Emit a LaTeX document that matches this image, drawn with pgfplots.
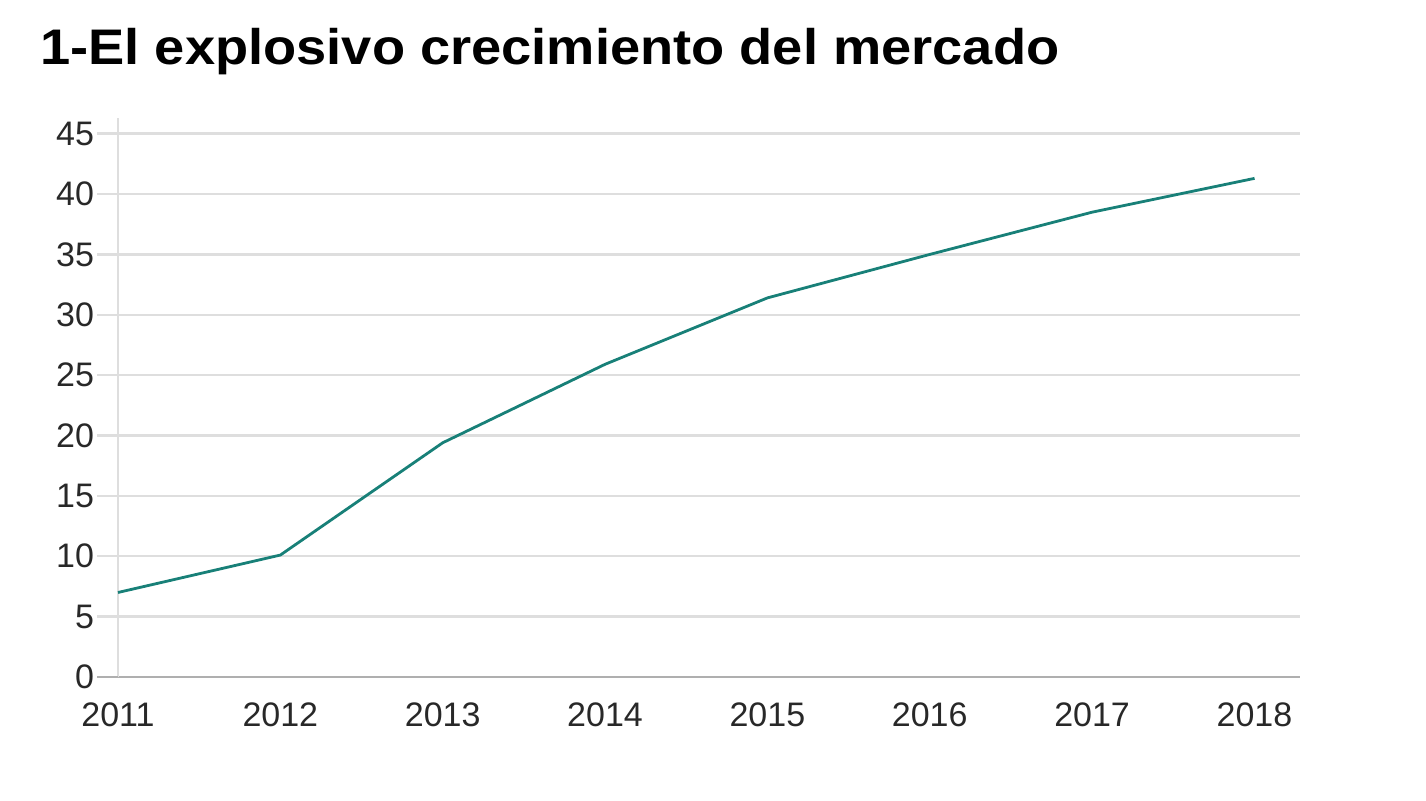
\documentclass[border=0pt]{standalone}
\usepackage{pgfplots}
\pgfplotsset{compat=1.18}
\usepackage{fontspec}
\setmainfont{Liberation Sans}
\definecolor{linecol}{RGB}{24,128,120}
\definecolor{gridcol}{RGB}{222,222,222}
\definecolor{basecol}{RGB}{175,175,175}
\definecolor{labcol}{RGB}{40,40,40}
\begin{document}
\begin{tikzpicture}
\useasboundingbox (0,0) rectangle (713pt,-400.5pt);
\node[anchor=base west,font=\bfseries\fontsize{25}{29}\selectfont,inner sep=0pt] at (20pt,-32.5pt) {\scalebox{1.085}[1]{1-El explosivo crecimiento del mercado}};
\begin{axis}[
    at={(59pt,-338.5pt)}, anchor=origin,
    scale only axis,
    width=591pt, height=279.5pt,
    xmin=2011, xmax=2018.28,
    ymin=0, ymax=46.3,
    xtick={2011,...,2018},
    ytick={0,5,...,45},
    /pgf/number format/assume math mode=true,
    xticklabel style={/pgf/number format/1000 sep={}},
    tick label style={font=\fontsize{17}{20}\selectfont, text=labcol},
    axis x line*=bottom, axis y line*=left,
    x axis line style={basecol, line width=1.2pt, -},
    y axis line style={gridcol, line width=1.2pt, -},
    ymajorgrids, grid style={gridcol, line width=1.2pt},
    tick align=outside,
    major tick length=10.5pt,
    xtick style={draw=none}, ytick style={draw=none},
    yticklabel style={xshift=2pt},
    xticklabel style={yshift=1pt},
    clip=false,
]
\addplot[linecol, line width=1.4pt] coordinates {
(2011,7.0) (2012,10.1) (2013,19.4) (2014,25.9) (2015,31.4) (2016,35.0) (2017,38.5) (2018,41.3)
};
% short grey stubs left of the y axis, as in the source chart
\draw[gridcol, line width=1.2pt] (rel axis cs:0,0.10799) -- ([xshift=-10.5pt]rel axis cs:0,0.10799);
\draw[gridcol, line width=1.2pt] (rel axis cs:0,0.21598) -- ([xshift=-10.5pt]rel axis cs:0,0.21598);
\draw[gridcol, line width=1.2pt] (rel axis cs:0,0.32397) -- ([xshift=-10.5pt]rel axis cs:0,0.32397);
\draw[gridcol, line width=1.2pt] (rel axis cs:0,0.43197) -- ([xshift=-10.5pt]rel axis cs:0,0.43197);
\draw[gridcol, line width=1.2pt] (rel axis cs:0,0.53996) -- ([xshift=-10.5pt]rel axis cs:0,0.53996);
\draw[gridcol, line width=1.2pt] (rel axis cs:0,0.64795) -- ([xshift=-10.5pt]rel axis cs:0,0.64795);
\draw[gridcol, line width=1.2pt] (rel axis cs:0,0.75594) -- ([xshift=-10.5pt]rel axis cs:0,0.75594);
\draw[gridcol, line width=1.2pt] (rel axis cs:0,0.86393) -- ([xshift=-10.5pt]rel axis cs:0,0.86393);
\draw[gridcol, line width=1.2pt] (rel axis cs:0,0.97192) -- ([xshift=-10.5pt]rel axis cs:0,0.97192);
\draw[basecol, line width=1.2pt] (rel axis cs:0,0) -- ([xshift=-10.5pt]rel axis cs:0,0);
\end{axis}
\end{tikzpicture}
\end{document}
